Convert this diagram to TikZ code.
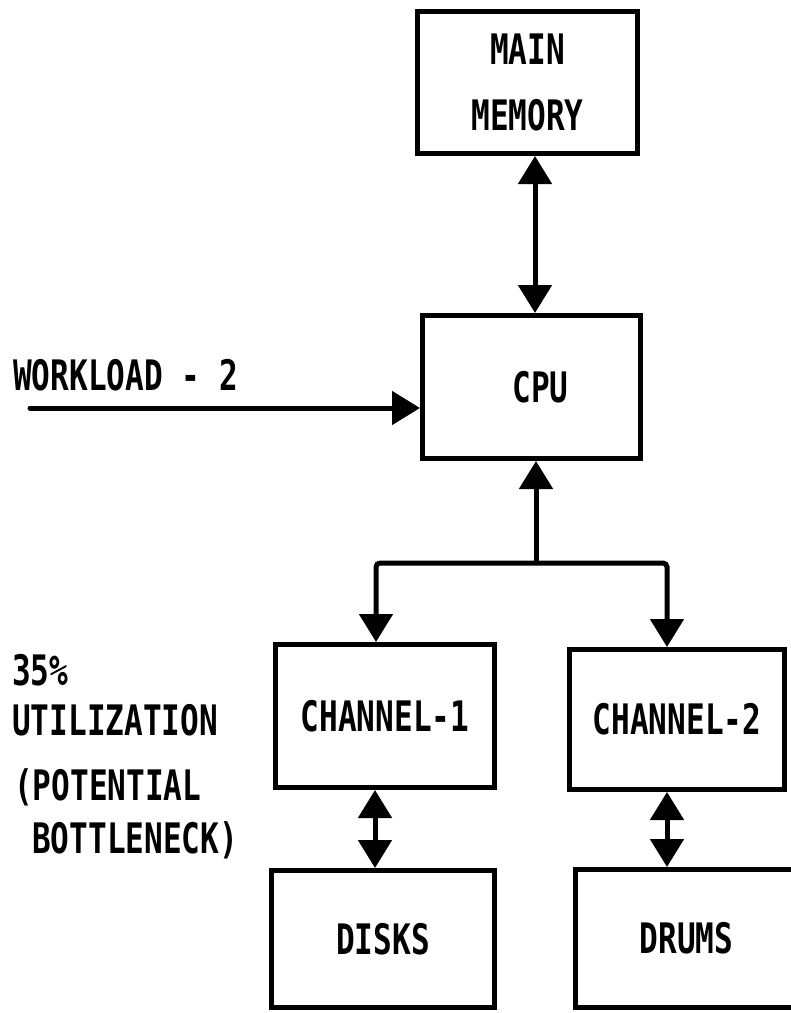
\documentclass[tikz,border=0pt]{standalone}
\usepackage{fontspec}
\newfontfamily\plotfont[FakeStretch=0.74]{DejaVu Sans Mono Bold}
\usetikzlibrary{arrows.meta}
\begin{document}
\begin{tikzpicture}[x=1pt,y=-1pt,
  every node/.style={font=\plotfont\fontsize{42}{66}\selectfont, inner sep=0pt},
  blk/.style={draw, line width=5pt, align=center},
  conn/.style={line width=5pt},
  tip/.style={-{Triangle[width=33pt,length=28pt]}},
  dbl/.style={{Triangle[width=33pt,length=28pt]}-{Triangle[width=33pt,length=28pt]}}
]
\useasboundingbox (0,0) rectangle (791,1013);
\clip (0,0) rectangle (791,1013);

\node[blk, minimum width=220pt, minimum height=142pt] (mm) at (527.5,82.5) {MAIN\\MEMORY};
\node[blk, minimum width=218pt, minimum height=143pt] (cpu) at (531.5,387) {\hspace*{18pt}CPU};
\node[blk, minimum width=219pt, minimum height=143pt] (ch1) at (385,716) {CHANNEL-1};
\node[blk, minimum width=215pt, minimum height=140pt] (ch2) at (677,719.5) {CHANNEL-2};
\node[blk, minimum width=223pt, minimum height=137pt] (disks) at (383,939) {DISKS};
\node[blk, minimum width=222pt, minimum height=138pt] (drums) at (686.5,938.5) {DRUMS};

\node[anchor=base west] (wl) at (13,390) {WORKLOAD - 2};
\node[anchor=base west] (p35) at (12,685) {35\%};
\node[anchor=base west] (util) at (12,735) {UTILIZATION};
\node[anchor=base west] (pot) at (14,800) {(POTENTIAL};
\node[anchor=base west] (bot) at (32,853) {BOTTLENECK)};

\coordinate (ma) at (535,0);
\draw[conn,dbl] (mm.south -| ma) -- (cpu.north -| ma);

\coordinate (w0) at (30,408);
\draw[conn,tip,line cap=round] (w0) -- (w0 -| cpu.west);

\coordinate (j) at (536,563);
\coordinate (bl) at (376,563);
\coordinate (br) at (667,563);
\draw[conn,tip] (j) -- (cpu.south -| j);
\draw[conn,tip,rounded corners=4pt] (j) -- (bl) -- (ch1.north -| bl);
\draw[conn,tip,rounded corners=4pt] (j) -- (br) -- (ch2.north -| br);

\coordinate (dl) at (375,0);
\coordinate (dr) at (667,0);
\draw[conn,dbl] (ch1.south -| dl) -- (disks.north -| dl);
\draw[conn,dbl] (ch2.south -| dr) -- (drums.north -| dr);
\end{tikzpicture}
\end{document}
